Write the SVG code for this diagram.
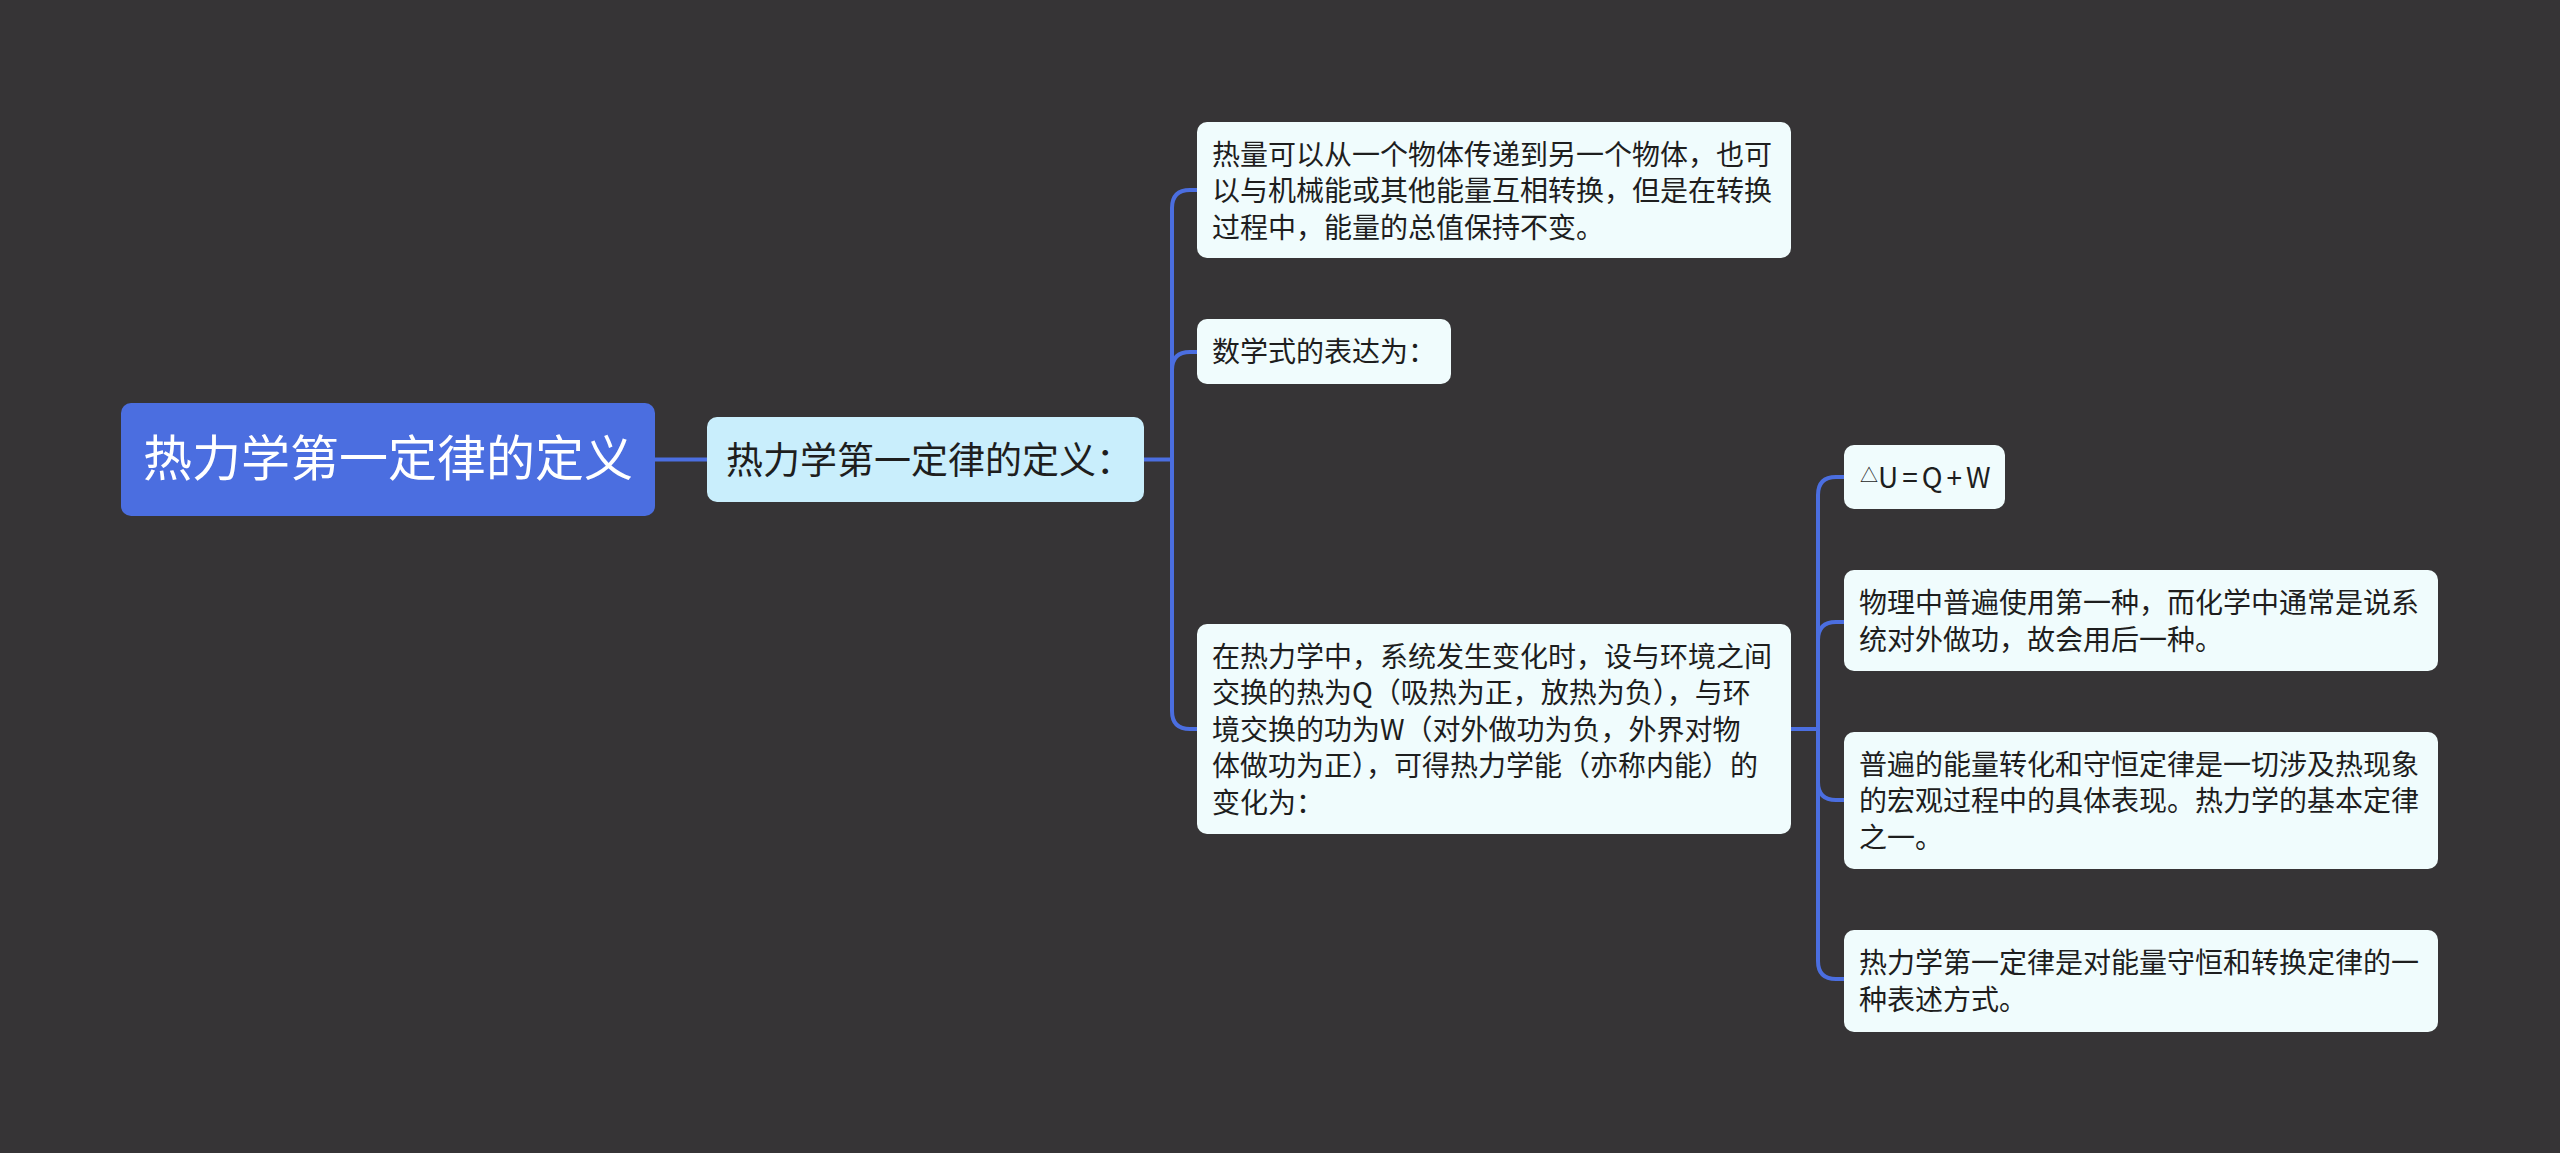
<svg xmlns="http://www.w3.org/2000/svg" width="2560" height="1153" viewBox="0 0 2560 1153">
<style>
.bg{fill:#363436}
.link{fill:none;stroke:#4b6ee0;stroke-width:4;stroke-linecap:round}
.root rect{fill:#4b6ee0}
.root text{fill:#ffffff;font-size:49px}
.sub rect{fill:#c9eefc}
.sub text{fill:#1e1e1e;font-size:37px}
.leaf rect{fill:#f0fcfd}
.leaf text{fill:#1e1e1e;font-size:28px}
text{font-family:"Noto Sans CJK SC","Liberation Sans",sans-serif}
</style>
<rect class="bg" x="0" y="0" width="2560" height="1153"/>
<g id="connectors">
<path class="link" d="M655 459.5 H707"/>
<path class="link" d="M1144 459.5 H1172 V208 Q1172 190 1190 190 H1197"/>
<path class="link" d="M1172 459.5 V370 Q1172 352 1190 352 H1197"/>
<path class="link" d="M1172 459.5 V711 Q1172 729 1190 729 H1197"/>
<path class="link" d="M1791 729 H1818 V495 Q1818 477 1836 477 H1844"/>
<path class="link" d="M1818 729 V640 Q1818 622 1836 622 H1844"/>
<path class="link" d="M1818 729 V782 Q1818 800 1836 800 H1844"/>
<path class="link" d="M1818 729 V961 Q1818 979 1836 979 H1844"/>
</g>
<g id="root" class="root">
<rect x="121" y="403" width="534" height="113" rx="10"/>
<text x="388" y="476" text-anchor="middle">热力学第一定律的定义</text>
</g>
<g id="sub" class="sub">
<rect x="707" y="417" width="437" height="85" rx="10"/>
<text x="726" y="473.5">热力学第一定律的定义：</text>
</g>
<g id="leaf1" class="leaf">
<rect x="1197" y="122" width="594" height="136" rx="10"/>
<text x="1212" y="164.5">热量可以从一个物体传递到另一个物体，也可</text>
<text x="1212" y="201.2">以与机械能或其他能量互相转换，但是在转换</text>
<text x="1212" y="237.9">过程中，能量的总值保持不变。</text>
</g>
<g id="leaf2" class="leaf">
<rect x="1197" y="319" width="254" height="65" rx="10"/>
<text x="1212" y="362">数学式的表达为：</text>
</g>
<g id="leaf3" class="leaf">
<rect x="1197" y="624" width="594" height="210" rx="10"/>
<text x="1212" y="666.6">在热力学中，系统发生变化时，设与环境之间</text>
<text x="1212" y="703.1">交换的热为Q（吸热为正，放热为负），与环</text>
<text x="1212" y="739.6">境交换的功为W（对外做功为负，外界对物</text>
<text x="1212" y="776.1">体做功为正），可得热力学能（亦称内能）的</text>
<text x="1212" y="812.6">变化为：</text>
</g>
<g id="leaf4" class="leaf">
<rect x="1844" y="445" width="161" height="64" rx="10"/>
<text x="1860" y="487.5"><tspan font-size="18" dy="-6">△</tspan><tspan dy="6" letter-spacing="4">U=Q+W</tspan></text>
</g>
<g id="leaf5" class="leaf">
<rect x="1844" y="570" width="594" height="101" rx="10"/>
<text x="1859" y="613">物理中普遍使用第一种，而化学中通常是说系</text>
<text x="1859" y="649.5">统对外做功，故会用后一种。</text>
</g>
<g id="leaf6" class="leaf">
<rect x="1844" y="732" width="594" height="137" rx="10"/>
<text x="1859" y="774.6">普遍的能量转化和守恒定律是一切涉及热现象</text>
<text x="1859" y="811.1">的宏观过程中的具体表现。热力学的基本定律</text>
<text x="1859" y="847.6">之一。</text>
</g>
<g id="leaf7" class="leaf">
<rect x="1844" y="930" width="594" height="102" rx="10"/>
<text x="1859" y="973.4">热力学第一定律是对能量守恒和转换定律的一</text>
<text x="1859" y="1009.9">种表述方式。</text>
</g>
</svg>
